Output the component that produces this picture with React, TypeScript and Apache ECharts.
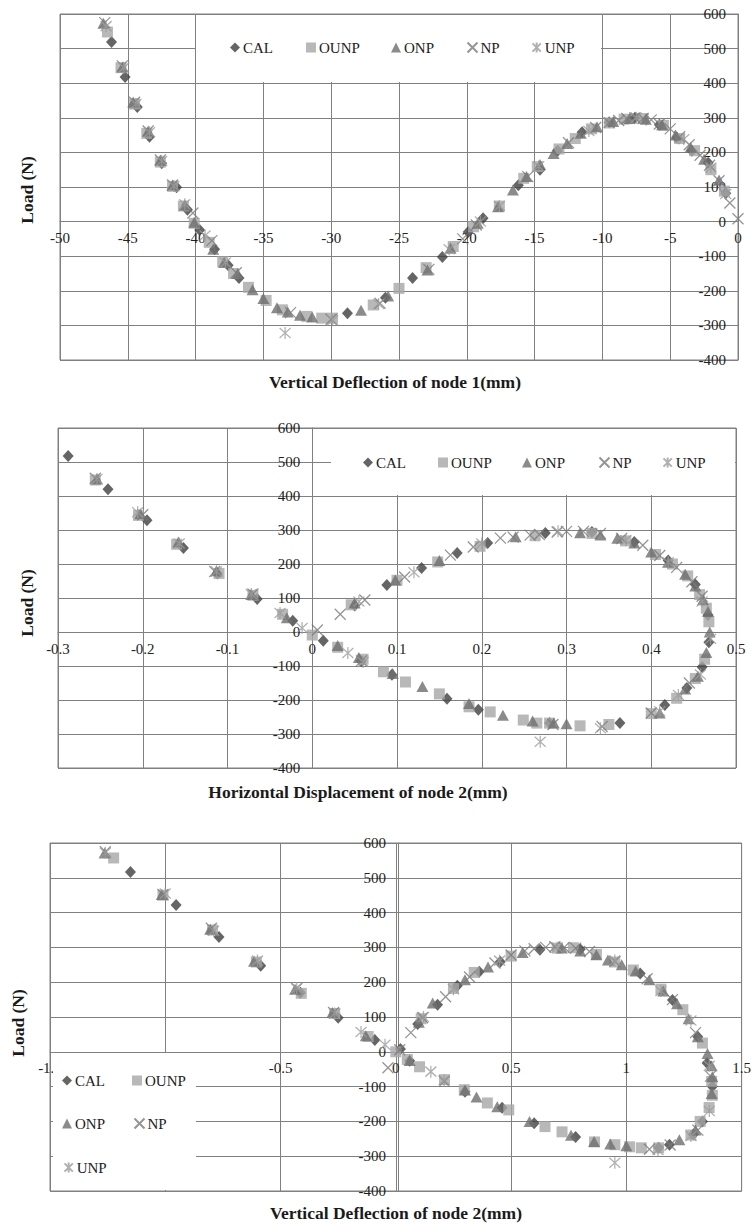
import React, { useEffect, useRef } from "react";
import * as echarts from "echarts";

// ---------- Panel 1: Load (N) vs Vertical Deflection of node 1 (mm) ----------
const cal1: number[][] = [
  [-46.2, 519], [-45.2, 418], [-44.3, 331], [-43.4, 245], [-42.5, 169], [-41.4, 99], [-40.6, 34],
  [-39.7, -24], [-38.6, -80], [-37.6, -126], [-36.8, -163], [-28.8, -265], [-26.0, -220],
  [-24.0, -163], [-21.8, -102], [-19.9, -30], [-18.8, 10], [-16.2, 105], [-14.6, 150],
  [-13.3, 205], [-11.5, 258], [-9.5, 287], [-7.6, 300], [-5.8, 280], [-4.5, 242], [-3.4, 205],
  [-2.2, 170], [-0.9, 82],
];
const ounp1: number[][] = [
  [-46.5, 548], [-45.5, 445], [-44.5, 340], [-43.6, 255], [-42.6, 172], [-41.7, 102], [-40.9, 45],
  [-40.1, -5], [-39.0, -60], [-38.0, -116], [-37.2, -150], [-36.1, -190], [-34.8, -228],
  [-33.6, -255], [-31.8, -274], [-30.7, -279], [-29.9, -279], [-26.9, -241], [-25.0, -193],
  [-23.0, -133], [-21.0, -72], [-19.5, -15], [-17.6, 45], [-15.8, 125], [-14.8, 159], [-13.2, 210],
  [-12.0, 240], [-10.8, 268], [-9.5, 285], [-8.4, 296], [-7.0, 298], [-5.5, 278], [-4.3, 240],
  [-3.2, 205], [-2.0, 150], [-1.0, 88], [0.1, -5],
];
const onp1: number[][] = [
  [-46.8, 573], [-45.4, 447], [-44.6, 346], [-43.5, 262], [-42.6, 178], [-41.7, 106], [-40.8, 48],
  [-40.1, -2], [-38.7, -80], [-37.9, -118], [-36.9, -150], [-35.8, -197], [-35.0, -222],
  [-34.0, -249], [-33.2, -261], [-32.3, -271], [-31.4, -276], [-27.8, -256], [-25.8, -215],
  [-22.9, -140], [-21.2, -77], [-19.2, -5], [-17.7, 43], [-16.6, 91], [-15.6, 130], [-14.6, 165],
  [-13.6, 197], [-12.6, 226], [-11.6, 255], [-10.4, 274], [-9.2, 289], [-8.0, 298], [-6.8, 296],
  [-5.6, 280], [-4.6, 250], [-3.5, 215], [-2.5, 180], [-1.4, 120],
];
const np1: number[][] = [
  [-46.7, 575], [-45.4, 450], [-44.5, 345], [-43.5, 262], [-42.6, 178], [-41.7, 106], [-40.2, 25],
  [-38.8, -55], [-37.0, -148], [-33.0, -263], [-30.0, -282], [-26.4, -236], [-22.8, -138],
  [-20.3, -50], [-19.3, -10], [-15.5, 130], [-12.5, 228], [-10.5, 272], [-9.5, 286], [-8.8, 292],
  [-8.2, 298], [-7.6, 300], [-7.0, 298], [-6.4, 294], [-5.8, 282], [-5.0, 268], [-4.3, 245],
  [-3.6, 222], [-2.8, 192], [-2.1, 163], [-1.4, 118], [-0.6, 54], [0, 8],
];
const unp1: number[][] = [
  [-46.6, 565], [-45.3, 445], [-44.4, 340], [-43.4, 258], [-42.5, 175], [-41.6, 103], [-40.8, 50],
  [-39.3, -40], [-37.8, -118], [-33.4, -322], [-29.9, -285], [-26.5, -238], [-21.3, -80],
  [-19.0, 0], [-17.6, 45], [-14.7, 160], [-11.0, 262], [-7.5, 300], [-4.0, 238], [-2.0, 156],
  [-0.9, 80],
];

// ---------- Panel 2: Load (N) vs Horizontal Displacement of node 2 (mm) ----------
const cal2: number[][] = [
  [-0.288, 518], [-0.241, 420], [-0.195, 329], [-0.152, 247], [-0.112, 172], [-0.065, 97],
  [-0.023, 33], [0.013, -26], [0.058, -85], [0.094, -126], [0.159, -196], [0.196, -229],
  [0.28, -268], [0.363, -268], [0.416, -215], [0.442, -165], [0.46, -103], [0.468, -30],
  [0.467, 50], [0.452, 140], [0.42, 210], [0.38, 265], [0.33, 294], [0.275, 291], [0.207, 262],
  [0.171, 232], [0.129, 188], [0.088, 138], [0.05, 78],
];
const ounp2: number[][] = [
  [-0.256, 447], [-0.205, 343], [-0.16, 258], [-0.11, 172], [-0.07, 108], [-0.035, 52], [0, -9],
  [0.03, -45], [0.06, -80], [0.084, -117], [0.11, -147], [0.15, -182], [0.185, -220],
  [0.21, -235], [0.249, -259], [0.265, -268], [0.28, -268], [0.316, -276], [0.35, -272],
  [0.4, -240], [0.43, -195], [0.452, -137], [0.463, -80], [0.468, 30], [0.465, 70], [0.457, 110],
  [0.443, 165], [0.425, 200], [0.405, 228], [0.37, 268], [0.33, 290], [0.263, 283], [0.198, 252],
  [0.148, 206], [0.1, 152], [0.046, 80],
];
const onp2: number[][] = [
  [-0.254, 450], [-0.203, 348], [-0.158, 265], [-0.113, 180], [-0.072, 110], [-0.03, 42],
  [0.03, -40], [0.055, -75], [0.095, -122], [0.13, -160], [0.185, -210], [0.225, -245],
  [0.26, -262], [0.285, -268], [0.3, -270], [0.41, -238], [0.44, -168], [0.455, -130],
  [0.465, -60], [0.469, 0], [0.467, 60], [0.461, 95], [0.452, 135], [0.44, 170], [0.42, 205],
  [0.4, 235], [0.38, 262], [0.36, 276], [0.34, 285], [0.316, 292], [0.24, 280], [0.15, 210],
  [0.098, 153], [0.05, 85],
];
const np2: number[][] = [
  [-0.256, 452], [-0.2, 345], [-0.115, 178], [-0.07, 112], [0.006, 6], [0.033, 52], [0.062, 94],
  [0.109, 162], [0.163, 226], [0.19, 250], [0.222, 276], [0.237, 279], [0.257, 285], [0.268, 287],
  [0.289, 294], [0.3, 296], [0.32, 296], [0.34, 290], [0.365, 275], [0.39, 255], [0.41, 225],
  [0.43, 190], [0.448, 148], [0.46, 105], [0.445, -150], [0.4, -238], [0.342, -278],
  [0.284, -272], [0.058, -85],
];
const unp2: number[][] = [
  [-0.254, 450], [-0.206, 352], [-0.157, 260], [-0.113, 178], [-0.072, 112], [-0.038, 56],
  [-0.012, 12], [0.042, -62], [0.06, -88], [0.269, -323], [0.34, -283], [0.41, -233],
  [0.432, -185], [0.458, -125], [0.47, -20], [0.46, 90], [0.42, 205], [0.37, 270], [0.29, 296],
  [0.2, 260], [0.12, 176], [0.055, 90],
];

// ---------- Panel 3: Load (N) vs Vertical Deflection of node 2 (mm) ----------
const cal3: number[][] = [
  [-1.151, 517], [-0.953, 422], [-0.767, 330], [-0.586, 247], [-0.414, 170], [-0.25, 98],
  [-0.091, 34], [0.06, -26], [0.3, -115], [0.461, -161], [0.6, -205], [0.78, -245],
  [1.14, -276], [1.187, -267], [1.29, -238], [1.33, -200], [1.373, -100], [1.35, -32],
  [1.31, 43], [1.2, 149], [1.06, 225], [0.8, 295], [0.625, 293], [0.453, 259], [0.362, 230],
  [0.267, 190], [0.181, 135], [0.095, 80], [0.02, 8],
];
const ounp3: number[][] = [
  [-1.224, 557], [-1.01, 450], [-0.795, 350], [-0.605, 258], [-0.41, 168], [-0.265, 110],
  [-0.12, 44], [0, 0], [0.05, -22], [0.103, -43], [0.211, -80], [0.297, -109], [0.397, -147],
  [0.49, -167], [0.647, -215], [0.721, -230], [0.862, -259], [0.95, -267], [1.014, -273],
  [1.065, -276], [1.14, -276], [1.28, -239], [1.32, -200], [1.359, -160], [1.373, -125],
  [1.37, -85], [1.33, 25], [1.245, 121], [1.15, 180], [1.03, 235], [0.95, 258], [0.87, 280],
  [0.77, 299], [0.7, 298], [0.5, 275], [0.34, 228], [0.25, 182], [0.11, 95],
];
const onp3: number[][] = [
  [-1.263, 571], [-1.015, 452], [-0.805, 352], [-0.615, 260], [-0.437, 180], [-0.275, 113],
  [-0.13, 46], [0.06, -25], [0.3, -110], [0.35, -130], [0.44, -158], [0.58, -200], [0.76, -240],
  [0.86, -258], [0.93, -265], [1.0, -270], [1.23, -253], [1.3, -225], [1.37, -120],
  [1.373, -72], [1.37, -40], [1.352, -5], [1.31, 43], [1.27, 95], [1.22, 138], [1.16, 175],
  [1.1, 207], [1.04, 232], [0.98, 250], [0.92, 264], [0.87, 279], [0.8, 290], [0.72, 298],
  [0.55, 285], [0.4, 244], [0.3, 207], [0.16, 140], [0.1, 85],
];
const np3: number[][] = [
  [-1.26, 575], [-1.01, 452], [-0.8, 355], [-0.43, 182], [-0.27, 113], [-0.034, -46], [0.017, 6],
  [0.065, 55], [0.116, 98], [0.216, 158], [0.32, 215], [0.43, 255], [0.5, 278], [0.56, 290],
  [0.6, 296], [0.65, 300], [0.69, 302], [0.73, 300], [0.78, 298], [0.84, 288], [0.95, 260],
  [1.09, 210], [1.2, 150], [1.3, 55], [1.365, -70], [1.31, -225], [1.19, -268], [1.1, -280],
  [0.21, -85],
];
const unp3: number[][] = [
  [-1.26, 572], [-1.0, 455], [-0.79, 348], [-0.6, 262], [-0.43, 183], [-0.265, 110],
  [-0.151, 57], [-0.047, 20], [0.152, -57], [0.21, -82], [0.95, -319], [1.137, -282],
  [1.28, -242], [1.36, -170], [1.36, -40], [1.28, 90], [1.15, 175], [0.95, 262], [0.7, 300],
  [0.45, 262], [0.25, 180], [0.12, 100],
];

const SERIES_NAMES = ["CAL", "OUNP", "ONP", "NP", "UNP"];
const PANEL_DATA = [
  [cal1, ounp1, onp1, np1, unp1],
  [cal2, ounp2, onp2, np2, unp2],
  [cal3, ounp3, onp3, np3, unp3],
];
const X_RANGES = [
  { min: -50, max: 0, interval: 5 },
  { min: -0.3, max: 0.5, interval: 0.1 },
  { min: -1.5, max: 1.5, interval: 0.5 },
];
const Y_RANGE = { min: -400, max: 600, interval: 100 };
const X_TITLES = [
  "Vertical Deflection of node 1(mm)",
  "Horizontal Displacement of node 2(mm)",
  "Vertical Deflection of node 2(mm)",
];
const Y_TITLE = "Load (N)";

const GRIDS = [
  { left: 60, top: 14, width: 678, height: 346 },
  { left: 58, top: 428, width: 678, height: 340 },
  { left: 50, top: 843, width: 696, height: 348 },
];
const LEGEND_BOXES = [
  { x: 196, y: 15, w: 405, h: 67 },
  { x: 331, y: 429, w: 404, h: 66 },
  { x: 53, y: 1053, w: 143, h: 137 },
];
// legend marker centres per panel, same order as SERIES_NAMES
const LEGEND_POS = [
  [[235, 48], [311, 48], [396, 48], [470, 48], [535, 48]],
  [[368, 463], [443, 463], [527, 463], [602, 463], [666, 463]],
  [[67, 1081], [137, 1081], [67, 1124], [137, 1124], [67, 1168]],
];
const X_TITLE_POS = [[395, 382], [358, 792], [396, 1213]];
const Y_TITLE_POS = [[27, 190], [27, 603], [18, 1023]];

const SERIF = "Liberation Serif";
const GRID_C = "#808080";
const TEXT_C = "#222222";

const STYLES: Record<string, any> = {
  CAL: { symbol: "diamond", symbolSize: [11, 12], itemStyle: { color: "#3e3e3e" } },
  OUNP: { symbol: "rect", symbolSize: 11, itemStyle: { color: "#a6a6a6" } },
  ONP: { symbol: "triangle", symbolSize: [12, 11], itemStyle: { color: "#6e6e6e" } },
  NP: {
    symbol: "path://M0 0L10 10M10 0L0 10",
    symbolSize: 11,
    itemStyle: { color: "none", borderColor: "#7a7a7a", borderWidth: 1.3 },
  },
  UNP: {
    symbol: "path://M0 0L10 10M10 0L0 10M5 -1L5 11",
    symbolSize: [11, 12],
    itemStyle: { color: "none", borderColor: "#9c9c9c", borderWidth: 1.3 },
  },
};

export default function App() {
  const ref = useRef<HTMLDivElement>(null);
  useEffect(() => {
    if (!ref.current) return;
    const chart = echarts.init(ref.current, null, { renderer: "svg" });

    const grid = GRIDS.map((g) => ({
      ...g,
      show: true,
      borderColor: GRID_C,
      borderWidth: 1,
      backgroundColor: "#fff",
      containLabel: false,
    }));

    // axes cross at zero: shift them from the grid edges to the zero position
    const xAxis = X_RANGES.map((r, i) => {
      const g = GRIDS[i];
      const zeroFromBottom = ((0 - Y_RANGE.min) / (Y_RANGE.max - Y_RANGE.min)) * g.height;
      return {
        type: "value",
        gridIndex: i,
        position: "bottom",
        offset: -zeroFromBottom,
        min: r.min,
        max: r.max,
        interval: r.interval,
        axisLine: { onZero: false, lineStyle: { color: GRID_C, width: 1 } },
        axisTick: { show: false },
        splitLine: { show: true, lineStyle: { color: GRID_C, width: 1 } },
        axisLabel: { color: TEXT_C, fontFamily: SERIF, fontSize: 15, margin: 9 },
      };
    });
    const yAxis = GRIDS.map((g, i) => {
      const r = X_RANGES[i];
      const zeroFromLeft = ((0 - r.min) / (r.max - r.min)) * g.width;
      return {
        type: "value",
        gridIndex: i,
        position: "left",
        offset: -zeroFromLeft,
        min: Y_RANGE.min,
        max: Y_RANGE.max,
        interval: Y_RANGE.interval,
        axisLine: { onZero: false, lineStyle: { color: GRID_C, width: 1 } },
        axisTick: { show: false },
        splitLine: { show: true, lineStyle: { color: GRID_C, width: 1 } },
        axisLabel: { color: TEXT_C, fontFamily: SERIF, fontSize: 15, margin: 12 },
      };
    });

    const series: any[] = [];
    PANEL_DATA.forEach((panel, gi) => {
      panel.forEach((data, si) => {
        const name = SERIES_NAMES[si];
        series.push({
          type: "scatter",
          name,
          data,
          xAxisIndex: gi,
          yAxisIndex: gi,
          ...STYLES[name],
          emphasis: { disabled: true },
        });
      });
    });

    const legend: any[] = [];
    LEGEND_POS.forEach((panel) => {
      panel.forEach((p, si) => {
        legend.push({
          data: [SERIES_NAMES[si]],
          left: p[0] - 5,
          top: p[1] - 8,
          itemWidth: 10,
          itemHeight: 10,
          selectedMode: false,
          padding: 0,
          textStyle: { color: TEXT_C, fontFamily: SERIF, fontSize: 15, padding: [0, 0, 0, -2] },
        });
      });
    });

    const graphic: any[] = [];
    LEGEND_BOXES.forEach((b) => {
      graphic.push({
        type: "rect",
        z: 3,
        shape: { x: b.x, y: b.y, width: b.w, height: b.h },
        style: { fill: "#ffffff" },
        silent: true,
      });
    });
    X_TITLES.forEach((t, i) => {
      graphic.push({
        type: "text",
        z: 5,
        x: X_TITLE_POS[i][0],
        y: X_TITLE_POS[i][1],
        style: {
          text: t,
          font: `bold 17.5px ${SERIF}`,
          fill: "#1a1a1a",
          textAlign: "center",
          textVerticalAlign: "middle",
          align: "center",
          verticalAlign: "middle",
        },
      });
      graphic.push({
        type: "text",
        z: 5,
        x: Y_TITLE_POS[i][0],
        y: Y_TITLE_POS[i][1],
        rotation: Math.PI / 2,
        style: {
          text: Y_TITLE,
          font: `bold 17.5px ${SERIF}`,
          fill: "#1a1a1a",
          textAlign: "center",
          textVerticalAlign: "middle",
          align: "center",
          verticalAlign: "middle",
        },
      });
    });

    chart.setOption({
      animation: false,
      backgroundColor: "#ffffff",
      grid,
      xAxis,
      yAxis,
      series,
      legend,
      graphic,
    });
    return () => chart.dispose();
  }, []);

  return (
    <div
      ref={ref}
      style={{ position: "absolute", left: 0, top: 0, width: 754, height: 1226, background: "#fff" }}
    />
  );
}
